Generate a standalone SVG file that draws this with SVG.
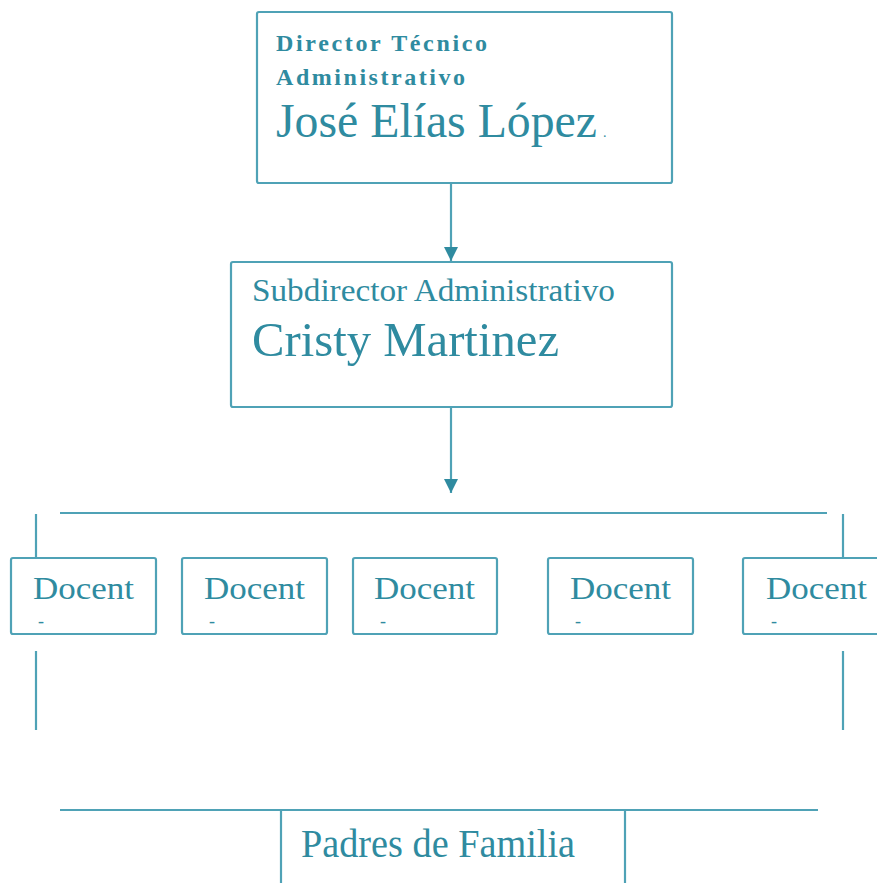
<svg xmlns="http://www.w3.org/2000/svg" width="877" height="883" viewBox="0 0 877 883">
<style>
.box{fill:#ffffff;stroke:#4fa2b6;stroke-width:2.2}
.ln{fill:none;stroke:#4fa2b6;stroke-width:2.2}
.t{font-family:"Liberation Serif","Times New Roman",serif;fill:#2f8ba0}
.b{font-weight:bold}
.doc{font-size:32px}
.dash{font-size:18px}
</style>
<defs>
<marker id="arr" markerWidth="16" markerHeight="16" refX="14" refY="7" orient="auto" markerUnits="userSpaceOnUse">
<path d="M0,0 L14,7 L0,14 Z" fill="#2f8ba0"/>
</marker>
</defs>
<rect width="877" height="883" fill="#ffffff"/>
<g id="connectors">
<line class="ln" x1="451" y1="183" x2="451" y2="261" marker-end="url(#arr)"/>
<line class="ln" x1="451" y1="407" x2="451" y2="493" marker-end="url(#arr)"/>
<line class="ln" x1="60" y1="513" x2="827" y2="513"/>
<line class="ln" x1="36" y1="514" x2="36" y2="558"/>
<line class="ln" x1="36" y1="651" x2="36" y2="730"/>
<line class="ln" x1="843" y1="514" x2="843" y2="558"/>
<line class="ln" x1="843" y1="651" x2="843" y2="730"/>
<line class="ln" x1="60" y1="810" x2="818" y2="810"/>
</g>
<g id="director">
<rect class="box" x="257" y="12" width="415" height="171" rx="2"/>
<text class="t b" x="276" y="51" font-size="24" textLength="211" lengthAdjust="spacing">Director Técnico</text>
<text class="t b" x="276" y="85" font-size="24" textLength="189" lengthAdjust="spacing">Administrativo</text>
<text class="t" x="276" y="137" font-size="48" textLength="321" lengthAdjust="spacingAndGlyphs">José Elías López</text>
<text class="t" x="603" y="137" font-size="14">.</text>
</g>
<g id="subdirector">
<rect class="box" x="231" y="262" width="441" height="145" rx="2"/>
<text class="t" x="252" y="301" font-size="31" textLength="363" lengthAdjust="spacingAndGlyphs">Subdirector Administrativo</text>
<text class="t" x="252" y="356" font-size="49" textLength="307" lengthAdjust="spacingAndGlyphs">Cristy Martinez</text>
</g>
<g id="docente1">
<rect class="box" x="11" y="558" width="145" height="76" rx="2"/>
<text class="t doc" x="33" y="599" textLength="101" lengthAdjust="spacingAndGlyphs">Docent</text>
<text class="t dash" x="38" y="627">-</text>
</g>
<g id="docente2">
<rect class="box" x="182" y="558" width="145" height="76" rx="2"/>
<text class="t doc" x="204" y="599" textLength="101" lengthAdjust="spacingAndGlyphs">Docent</text>
<text class="t dash" x="209" y="627">-</text>
</g>
<g id="docente3">
<rect class="box" x="353" y="558" width="144" height="76" rx="2"/>
<text class="t doc" x="374" y="599" textLength="101" lengthAdjust="spacingAndGlyphs">Docent</text>
<text class="t dash" x="380" y="627">-</text>
</g>
<g id="docente4">
<rect class="box" x="548" y="558" width="145" height="76" rx="2"/>
<text class="t doc" x="570" y="599" textLength="101" lengthAdjust="spacingAndGlyphs">Docent</text>
<text class="t dash" x="575" y="627">-</text>
</g>
<g id="docente5">
<rect class="box" x="743" y="558" width="145" height="76" rx="2"/>
<text class="t doc" x="766" y="599" textLength="101" lengthAdjust="spacingAndGlyphs">Docent</text>
<text class="t dash" x="771" y="627">-</text>
</g>
<g id="padres">
<line class="ln" x1="281" y1="810" x2="281" y2="883"/>
<line class="ln" x1="625" y1="810" x2="625" y2="883"/>
<text class="t" x="301" y="857" font-size="39" textLength="274" lengthAdjust="spacingAndGlyphs">Padres de Familia</text>
</g>
</svg>
